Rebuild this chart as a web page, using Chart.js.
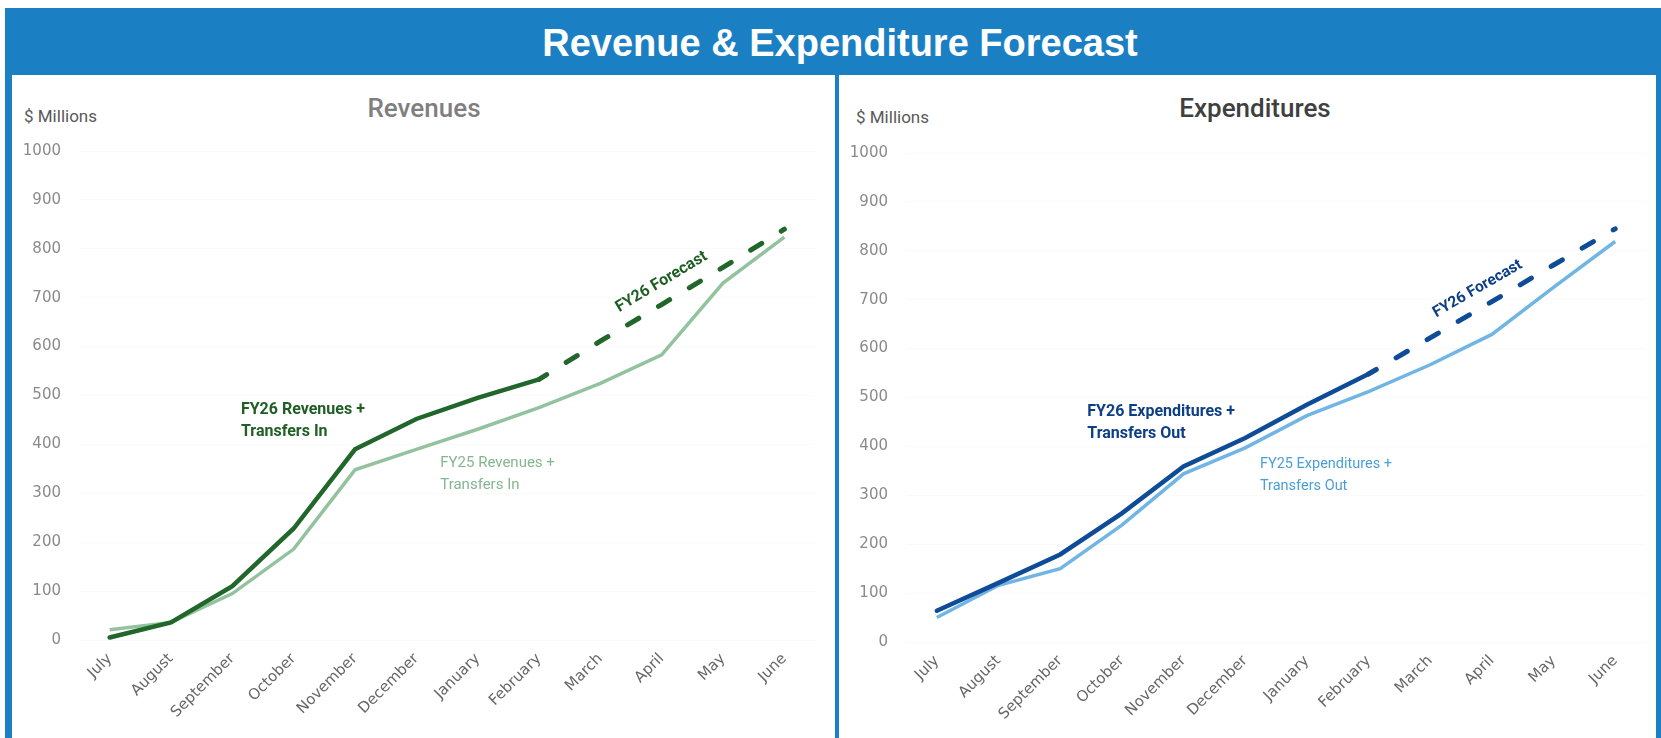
<!DOCTYPE html>
<html>
<head>
<meta charset="utf-8">
<script src="https://cdn.jsdelivr.net/npm/chart.js@4.4.1/dist/chart.umd.min.js"></script>
<style>
  body { margin: 0; background: #fff; width: 1661px; height: 738px; overflow: hidden; position: relative; font-family: Roboto, sans-serif; }
  #header { position: absolute; left: 5px; top: 8px; width: 1656px; height: 67px; background: #1b7fc4; }
  #header h1 { margin: 0; position: absolute; left: 0; width: 1670px; top: 14px; text-align: center; color: #fff;
               font: bold 38px "Liberation Sans", Arial, sans-serif; }
  .bar { position: absolute; top: 70px; bottom: 0; background: #1b7fc4; }
  .ptitle { position: absolute; font-size: 26px; font-weight: 500; transform: translateX(-50%); white-space: nowrap; }
  .unit { position: absolute; font-size: 17px; color: #595959; }
  canvas { position: absolute; top: 75px; }
</style>
</head>
<body>
<div id="header"><h1>Revenue &amp; Expenditure Forecast</h1></div>
<div class="bar" style="left:5px;width:7px"></div>
<div class="bar" style="left:835px;width:4px"></div>
<div class="bar" style="left:1656px;width:5px"></div>

<div class="ptitle" style="left:424px;top:93px;color:#7f7f7f">Revenues</div>
<div class="ptitle" style="left:1255px;top:93px;color:#404040">Expenditures</div>
<div class="unit" style="left:24px;top:106px">$ Millions</div>
<div class="unit" style="left:856px;top:107px">$ Millions</div>

<canvas id="revChart" width="823" height="663" style="left:12px"></canvas>
<canvas id="expChart" width="817" height="663" style="left:839px"></canvas>

<script>
// months of the fiscal year
var months = ['July', 'August', 'September', 'October', 'November', 'December',
              'January', 'February', 'March', 'April', 'May', 'June'];

// revenues ($ millions, cumulative)
var revFY26 = [5, 36, 110, 228, 390, 452, 495, 533, null, null, null, null];
var revFY26Forecast = [null, null, null, null, null, null, null, 533, 611, 686, 762, 840];
var revFY25 = [21, 36, 95, 186, 348, 390, 431, 475, 525, 583, 730, 824];

// expenditures ($ millions, cumulative)
var expFY26 = [64, 121, 179, 263, 359, 417, 485, 548, null, null, null, null];
var expFY26Forecast = [null, null, null, null, null, null, null, 548, 622, 696, 771, 845];
var expFY25 = [50, 116, 150, 239, 344, 397, 463, 512, 567, 629, 725, 819];

var yMin = 0, yMax = 1000, yStep = 100;

// text notes drawn next to the lines
function notesPlugin(items) {
    return {
        id: 'notes',
        afterDatasetsDraw: function(chart) {
            var ctx = chart.ctx;
            var xs = chart.scales.x, ys = chart.scales.y;
            items.forEach(function(n) {
                var px = xs.getPixelForValue(n.x);
                var py = ys.getPixelForValue(n.y);
                ctx.save();
                ctx.translate(px, py);
                if (n.rotate) ctx.rotate(n.rotate * Math.PI / 180);
                ctx.fillStyle = n.color;
                ctx.font = (n.bold ? 'bold ' : '') + n.size + 'px Roboto, sans-serif';
                ctx.textAlign = n.align || 'left';
                ctx.textBaseline = 'middle';
                n.lines.forEach(function(l, i) {
                    ctx.fillText(l, 0, i * 22);
                });
                ctx.restore();
            });
        }
    };
}

function makeChart(id, actual, forecast, prior, dark, light, pad, axisH, notes) {
    var ctx = document.getElementById(id);
    return new Chart(ctx, {
        type: 'line',
        data: {
            labels: months,
            datasets: [{
                data: actual,
                borderColor: dark,
                borderWidth: 4.5,
                borderCapStyle: 'round',
                pointRadius: 0,
                tension: 0
            }, {
                data: forecast,
                borderColor: dark,
                borderWidth: 5,
                borderDash: [13, 23],
                borderDashOffset: 4,
                borderCapStyle: 'round',
                pointRadius: 0,
                tension: 0
            }, {
                data: prior,
                borderColor: light,
                borderWidth: 3.5,
                pointRadius: 0,
                tension: 0
            }]
        },
        options: {
            responsive: false,
            animation: false,
            devicePixelRatio: 1,
            layout: { padding: pad },
            plugins: { legend: { display: false }, tooltip: { enabled: false } },
            scales: {
                x: {
                    offset: true,
                    grid: { display: false, drawTicks: false },
                    border: { display: false },
                    ticks: {
                        minRotation: 45, maxRotation: 45, padding: 10,
                        color: '#666666',
                        font: { family: 'DejaVu Sans', size: 15 }
                    },
                    afterFit: function(s) { s.height = axisH; }
                },
                y: {
                    min: yMin, max: yMax,
                    grid: { color: 'rgba(0,0,0,0.02)', drawTicks: false },
                    border: { display: false },
                    ticks: {
                        stepSize: yStep, padding: 18,
                        color: '#8a8a8a',
                        font: { family: 'DejaVu Sans', size: 15 },
                        callback: function(v) { return String(v); }
                    },
                    afterFit: function(s) { s.width = 67; }
                }
            }
        },
        plugins: [notesPlugin(notes)]
    });
}

makeChart('revChart', revFY26, revFY26Forecast, revFY25, '#21662a', '#93c29e',
    { left: 0, top: 76, right: 20, bottom: 0 }, 98, [
        { x: 2.14, y: 471, lines: ['FY26 Revenues +', 'Transfers In'], color: '#1f5f24', bold: true, size: 16 },
        { x: 5.39, y: 362, lines: ['FY25 Revenues +', 'Transfers In'], color: '#84b690', bold: false, size: 15 },
        { x: 9.0, y: 732, lines: ['FY26 Forecast'], color: '#1f5f24', bold: true, size: 16, align: 'center', rotate: -31 }
    ]);

makeChart('expChart', expFY26, expFY26Forecast, expFY25, '#0f4c97', '#70b5e4',
    { left: 0, top: 78, right: 10, bottom: 0 }, 96, [
        { x: 2.44, y: 471, lines: ['FY26 Expenditures +', 'Transfers Out'], color: '#0d3f86', bold: true, size: 16 },
        { x: 5.24, y: 364, lines: ['FY25 Expenditures +', 'Transfers Out'], color: '#4a9fd8', bold: false, size: 14.5 },
        { x: 8.77, y: 722, lines: ['FY26 Forecast'], color: '#0d3f86', bold: true, size: 15.5, align: 'center', rotate: -30 }
    ]);
</script>
</body>
</html>
